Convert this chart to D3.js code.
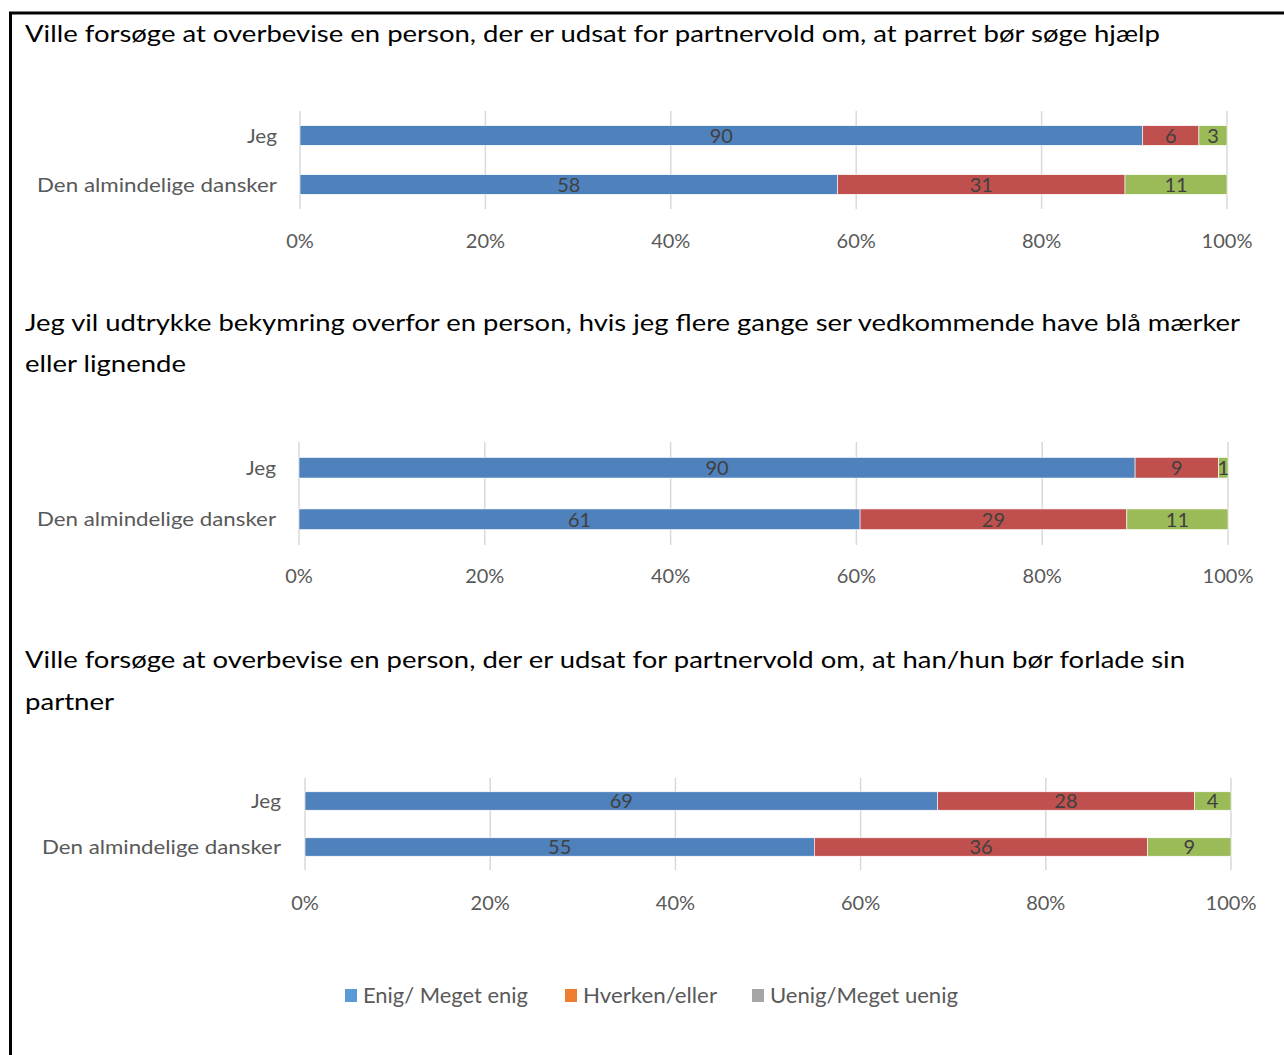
<!DOCTYPE html>
<html>
<head>
<meta charset="utf-8">
<script src="https://cdn.jsdelivr.net/npm/d3@7"></script>
<style>
  body { margin: 0; background: #fff; }
  text { font-family: Lato, "Open Sans", sans-serif; }
</style>
</head>
<body>
<div id="chart"></div>
<script>
// data
var categories = ['Jeg', 'Den almindelige dansker'];
var seriesNames = ['Enig/ Meget enig', 'Hverken/eller', 'Uenig/Meget uenig'];
var titles1 = ['Ville forsøge at overbevise en person, der er udsat for partnervold om, at parret bør søge hjælp'];
var titles2 = ['Jeg vil udtrykke bekymring overfor en person, hvis jeg flere gange ser vedkommende have blå mærker', 'eller lignende'];
var titles3 = ['Ville forsøge at overbevise en person, der er udsat for partnervold om, at han/hun bør forlade sin', 'partner'];
var values1 = [[90, 6, 3], [58, 31, 11]];
var values2 = [[90, 9, 1], [61, 29, 11]];
var values3 = [[69, 28, 4], [55, 36, 9]];
var tickValues = [0, 0.2, 0.4, 0.6, 0.8, 1];

var barColors = ['#4F81BD', '#C0504D', '#9BBB59'];
var legendColors = ['#5B9BD5', '#ED7D31', '#A5A5A5'];

var W = 1284, H = 1055;

function svgr(id, w, h) {
    return d3.select(id)
        .append('svg')
        .attr('width', w)
        .attr('height', h)
        .attr('xmlns', 'http://www.w3.org/2000/svg');
}

var svg = svgr('#chart', W, H);

// document frame
svg.append('rect')
    .attr('x', 10.5).attr('y', 13)
    .attr('width', 1400).attr('height', 1200)
    .attr('fill', 'none')
    .attr('stroke', '#000')
    .attr('stroke-width', 3);

// layout per panel (positions only)
var panels = [
    { titles: titles1, values: values1, titleY: [42], xr: [300, 1227], yr: [111, 209], tickY: 248,
      titleW: [1135], labelRight: 277, labelW: [30, 240] },
    { titles: titles2, values: values2, titleY: [331, 372], xr: [299, 1228], yr: [442, 545], tickY: 583,
      titleW: [1215, 161], labelRight: 276, labelW: [30, 239] },
    { titles: titles3, values: values3, titleY: [668, 710], xr: [305, 1231], yr: [778, 870], tickY: 910,
      titleW: [1160, 89], labelRight: 281, labelW: [30, 239] }
];

function fitText(sel, w) {
    sel.attr('textLength', w).attr('lengthAdjust', 'spacingAndGlyphs');
}

panels.forEach(function (p) {
    var g = svg.append('g');

    // title lines
    p.titles.forEach(function (t, i) {
        g.append('text')
            .attr('x', 25)
            .attr('y', p.titleY[i])
            .attr('font-size', 23)
            .attr('fill', '#000')
            .text(t)
            .call(fitText, p.titleW[i]);
    });

    var x = d3.scaleLinear().domain([0, 1]).range(p.xr);
    var y = d3.scaleBand().domain(categories).range(p.yr)
        .paddingInner(0.6).paddingOuter(0.3);

    // gridlines
    g.selectAll('.grid')
        .data(tickValues)
        .enter().append('line')
        .attr('x1', (d) => x(d)).attr('x2', (d) => x(d))
        .attr('y1', p.yr[0]).attr('y2', p.yr[1])
        .attr('stroke', '#D9D9D9')
        .attr('stroke-width', 1.5);

    // tick labels
    g.selectAll('.tick')
        .data(tickValues)
        .enter().append('text')
        .attr('x', (d) => x(d))
        .attr('y', p.tickY)
        .attr('text-anchor', 'middle')
        .attr('font-size', 20)
        .attr('fill', '#595959')
        .text(d3.format('.0%'));

    // category labels
    g.selectAll('.cat')
        .data(categories)
        .enter().append('text')
        .attr('x', p.labelRight)
        .attr('y', (d) => y(d) + y.bandwidth() / 2)
        .attr('dy', '0.35em')
        .attr('text-anchor', 'end')
        .attr('font-size', 20)
        .attr('fill', '#595959')
        .attr('textLength', (d, i) => p.labelW[i])
        .attr('lengthAdjust', 'spacingAndGlyphs')
        .text((d) => d);

    // stacked bars (100%)
    var rows = categories.map(function (c, i) {
        var r = { cat: c };
        seriesNames.forEach(function (s, j) { r[s] = p.values[i][j]; });
        return r;
    });
    var stack = d3.stack().keys(seriesNames).offset(d3.stackOffsetExpand)(rows);

    var layers = g.selectAll('.layer')
        .data(stack)
        .enter().append('g')
        .attr('fill', (d, i) => barColors[i]);

    layers.selectAll('rect')
        .data((d) => d)
        .enter().append('rect')
        .attr('x', (d) => x(d[0]))
        .attr('width', (d) => x(d[1]) - x(d[0]))
        .attr('y', (d) => y(d.data.cat))
        .attr('height', y.bandwidth())
        .attr('stroke', '#fff')
        .attr('stroke-width', 0.6);

    layers.selectAll('text')
        .data((d) => d.map((v) => ({ v: v, key: d.key })))
        .enter().append('text')
        .attr('x', (d) => x((d.v[0] + d.v[1]) / 2))
        .attr('y', (d) => y(d.v.data.cat) + y.bandwidth() / 2)
        .attr('dy', '0.37em')
        .attr('text-anchor', 'middle')
        .attr('font-size', 20)
        .attr('fill', '#404040')
        .text((d) => d.v.data[d.key]);
});

// legend
var legendX = [345, 565, 752];
var legendW = [165, 134, 188];
var lg = svg.append('g');
seriesNames.forEach(function (s, i) {
    lg.append('rect')
        .attr('x', legendX[i]).attr('y', 989)
        .attr('width', 12).attr('height', 13)
        .attr('fill', legendColors[i]);
    lg.append('text')
        .attr('x', legendX[i] + 18)
        .attr('y', 996)
        .attr('dy', '0.35em')
        .attr('font-size', 21)
        .attr('fill', '#595959')
        .text(s)
        .call(fitText, legendW[i]);
});
</script>
</body>
</html>
